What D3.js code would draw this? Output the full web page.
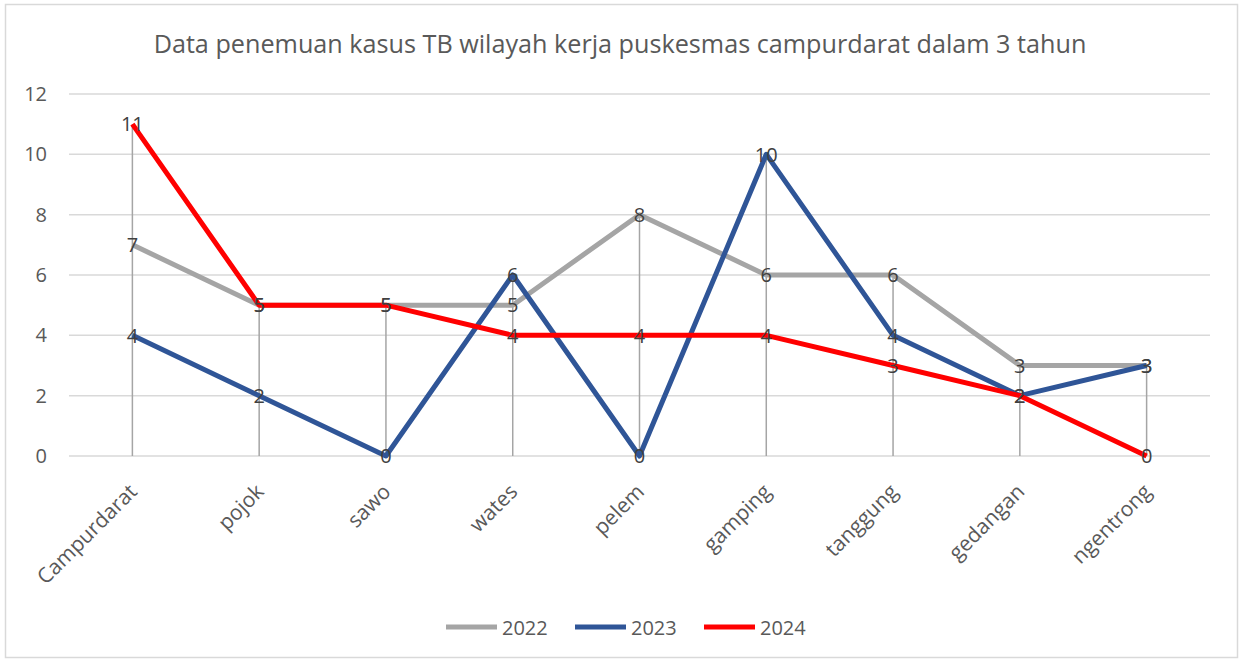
<!DOCTYPE html>
<html><head><meta charset="utf-8">
<script src="https://cdn.jsdelivr.net/npm/d3@7"></script>
<style>body{margin:0;background:#fff;}svg text{font-family:"Open Sans","Noto Sans",sans-serif;}</style>
</head><body><svg id="c" width="1243" height="662"></svg>
<script>
const categories = ["Campurdarat","pojok","sawo","wates","pelem","gamping","tanggung","gedangan","ngentrong"];
const series2022 = [7,5,5,5,8,6,6,3,3];
const series2023 = [4,2,0,6,0,10,4,2,3];
const series2024 = [11,5,5,4,4,4,3,2,0];
const seriesNames = ["2022","2023","2024"];
const yTicks = [0,2,4,6,8,10,12];
const title = "Data penemuan kasus TB wilayah kerja puskesmas campurdarat dalam 3 tahun";

const colors = ["#A5A5A5","#2F5597","#FF0000"];
const allSeries = [series2022, series2023, series2024];
const FS = 20;

const svg = d3.select("#c");
svg.append("rect").attr("x",5.5).attr("y",4.5).attr("width",1232).attr("height",653)
  .attr("fill","#fff").attr("stroke","#D9D9D9").attr("stroke-width",1.5);

const x = d3.scaleBand().domain(categories).range([69,1210]);
const y = d3.scaleLinear().domain([0,12]).range([456,94]);
const cx = d => x(d) + x.bandwidth()/2;

svg.append("text").attr("x",620).attr("y",53).attr("text-anchor","middle")
  .attr("font-size",25.2).attr("fill","#595959").text(title);

// gridlines
svg.append("g").selectAll("line").data(yTicks).join("line")
  .attr("x1",69).attr("x2",1210).attr("y1",d=>y(d)).attr("y2",d=>y(d))
  .attr("stroke","#D9D9D9").attr("stroke-width",1.5);

// y axis labels
const yAxis = d3.axisLeft(y).tickValues(yTicks).tickSize(0).tickPadding(0);
const ya = svg.append("g").attr("transform","translate(47,0)").call(yAxis);
ya.select(".domain").remove();
ya.selectAll("text").attr("font-size",FS).attr("fill","#595959").style("font-family",'"Open Sans","Noto Sans",sans-serif');

// drop lines
const maxVals = categories.map((c,i)=>d3.max(allSeries, s=>s[i]));
svg.append("g").selectAll("line").data(categories).join("line")
  .attr("x1",d=>cx(d)).attr("x2",d=>cx(d))
  .attr("y1",(d,i)=>y(maxVals[i])).attr("y2",y(0))
  .attr("stroke","#A5A5A5").attr("stroke-width",1.5);

// x labels
const xa = svg.append("g");
xa.selectAll("text").data(categories).join("text")
  .attr("transform",d=>`translate(${cx(d)+6},${493}) rotate(-45)`)
  .attr("text-anchor","end")
  .attr("font-size",21).attr("fill","#595959").text(d=>d);

// lines
const line = d3.line().x((d,i)=>cx(categories[i])).y(d=>y(d));
allSeries.forEach((s,k)=>{
  svg.append("path").datum(s).attr("d",line).attr("fill","none")
    .attr("stroke",colors[k]).attr("stroke-width",5).attr("stroke-linejoin","round");
});
// labels
allSeries.forEach((s,k)=>{
  svg.append("g").selectAll("text").data(s).join("text")
    .attr("x",(d,i)=>cx(categories[i])).attr("y",d=>y(d)).attr("dy","0.36em")
    .attr("text-anchor","middle").attr("font-size",FS).attr("fill","#404040").text(d=>d);
});

// legend
const lg = svg.append("g");
const lx = [446,575,704];
seriesNames.forEach((n,k)=>{
  lg.append("line").attr("x1",lx[k]).attr("x2",lx[k]+51).attr("y1",627).attr("y2",627)
    .attr("stroke",colors[k]).attr("stroke-width",5);
  lg.append("text").attr("x",lx[k]+56).attr("y",635)
    .attr("font-size",FS).attr("fill","#595959").text(n);
});
</script></body></html>
